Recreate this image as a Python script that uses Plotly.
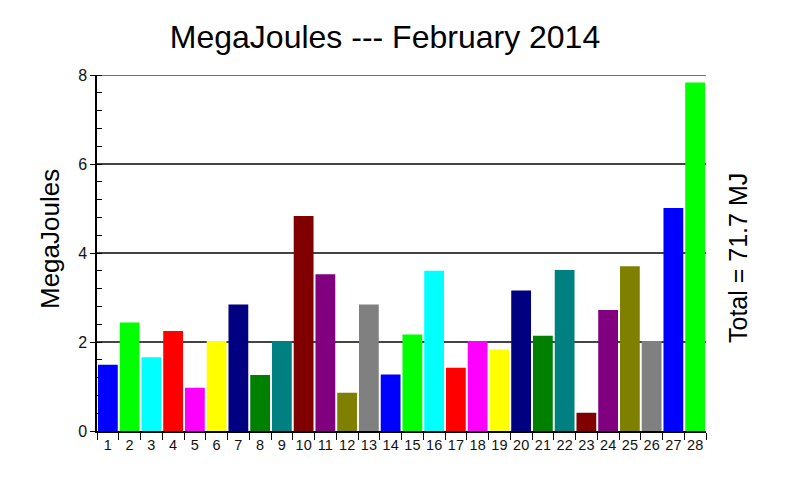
import plotly.graph_objects as go

days = [str(d) for d in range(1, 29)]
megajoules = [1.49, 2.44, 1.66, 2.25, 0.97, 2.02, 2.84, 1.26, 2.02, 4.83,
              3.52, 0.86, 2.84, 1.27, 2.17, 3.60, 1.42, 2.02, 1.83, 3.16,
              2.14, 3.62, 0.41, 2.72, 3.70, 2.02, 5.01, 7.83]
palette = ["#0000FF", "#00FF00", "#00FFFF", "#FF0000", "#FF00FF", "#FFFF00",
           "#000080", "#008000", "#008080", "#800000", "#800080", "#808000",
           "#808080"]
bar_colors = [palette[i % len(palette)] for i in range(len(days))]
y_ticks = [0, 2, 4, 6, 8]
title_text = "MegaJoules --- February 2014"
y_title = "MegaJoules"
total_text = "Total = 71.7 MJ"

FONT = "Liberation Sans, Arial, sans-serif"

# page has an 8px body margin; figure is sized to fill the rest
W, H = 786, 478
L, T, R, B = 89, 67, 88, 55
PW = W - L - R
PH = H - T - B

fig = go.Figure(go.Bar(x=days, y=megajoules, marker=dict(color=bar_colors, line=dict(width=0))))

fig.update_layout(
    width=W, height=H,
    margin=dict(l=L, r=R, t=T, b=B, autoexpand=False),
    paper_bgcolor="white", plot_bgcolor="white",
    bargap=0.09,
    showlegend=False,
    font=dict(family=FONT, color="#000000"),
    title=dict(text=title_text, x=377 / W, xanchor="center", xref="container",
               y=1 - 29 / H, yanchor="middle", yref="container",
               font=dict(size=32, family=FONT, color="#000000")),
    annotations=[
        dict(text=y_title, textangle=-90, xref="paper", yref="paper",
             x=(42 - L) / PW, y=(H - B - 231) / PH, showarrow=False,
             xanchor="center", yanchor="middle",
             font=dict(size=26, family=FONT, color="#000000")),
        dict(text=total_text, textangle=-90, xref="paper", yref="paper",
             x=(730 - L) / PW, y=(H - B - 250) / PH, showarrow=False,
             xanchor="center", yanchor="middle",
             font=dict(size=25, family=FONT, color="#000000")),
    ],
    shapes=[
        # gridline at the top of the y range (plotly skips the edge gridline)
        dict(type="line", xref="paper", yref="y", x0=0, x1=1,
             y0=y_ticks[-1], y1=y_ticks[-1],
             line=dict(color="#444444", width=1.5), layer="below"),
    ],
)

fig.update_xaxes(
    type="category", tickson="boundaries", ticks="outside", ticklen=7,
    tickcolor="#000000", tickwidth=1.2, tickangle=0,
    showline=True, linecolor="#000000", linewidth=1.5,
    showgrid=False, tickfont=dict(size=14.5, family=FONT, color="#111111"),
)
fig.update_yaxes(
    range=[0, 8], tickvals=y_ticks, ticks="outside", ticklen=5,
    tickcolor="#000000", tickwidth=1.2,
    showline=True, linecolor="#000000", linewidth=1.5,
    showgrid=True, gridcolor="#444444", gridwidth=1.5,
    zeroline=False,
    minor=dict(dtick=0.4, tick0=0, ticks="inside", ticklen=5, tickcolor="#000000", tickwidth=1.2, showgrid=False),
    tickfont=dict(size=16, family=FONT, color="#111111"),
)

fig.write_html("out.html")
